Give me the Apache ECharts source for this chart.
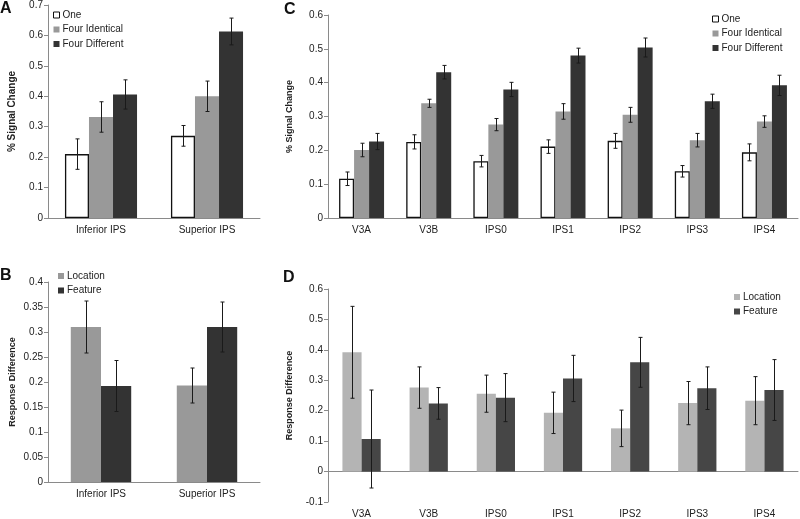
<!DOCTYPE html>
<html><head><meta charset="utf-8">
<script src="https://cdn.jsdelivr.net/npm/echarts@6/dist/echarts.min.js"></script>
<style>html,body{margin:0;padding:0;background:#fff}#c{width:800px;height:519px}</style>
</head><body><div id="c"></div>
<script>
// ---------- data ----------
const catsAB = ['Inferior IPS', 'Superior IPS'];
const catsCD = ['V3A', 'V3B', 'IPS0', 'IPS1', 'IPS2', 'IPS3', 'IPS4'];

// Panel A (% signal change)
const oneA = [0.21, 0.27];
const oneAErr = [0.05, 0.034];
const identA = [0.332, 0.40];
const identAErr = [0.05, 0.05];
const diffA = [0.406, 0.613];
const diffAErr = [0.048, 0.044];

// Panel B (response difference)
const locB = [0.31, 0.193];
const locBErr = [0.052, 0.035];
const featB = [0.192, 0.31];
const featBErr = [0.051, 0.05];

// Panel C (% signal change)
const oneC = [0.116, 0.225, 0.168, 0.211, 0.228, 0.138, 0.194];
const oneCErr = [0.02, 0.021, 0.017, 0.02, 0.022, 0.017, 0.025];
const identC = [0.201, 0.339, 0.276, 0.315, 0.305, 0.230, 0.285];
const identCErr = [0.02, 0.012, 0.018, 0.023, 0.022, 0.02, 0.017];
const diffC = [0.226, 0.431, 0.380, 0.480, 0.504, 0.345, 0.392];
const diffCErr = [0.024, 0.02, 0.021, 0.022, 0.028, 0.021, 0.03];

// Panel D (response difference)
const locD = [0.392, 0.276, 0.256, 0.193, 0.142, 0.225, 0.233];
const locDErr = [0.151, 0.068, 0.061, 0.068, 0.06, 0.071, 0.079];
const featD = [0.107, 0.224, 0.243, 0.306, 0.359, 0.274, 0.268];
const featDErr = [0.161, 0.052, 0.079, 0.076, 0.082, 0.07, 0.1];

// ---------- styling ----------
const FONT = "'Liberation Sans', Arial, sans-serif";
const AXIS = '#8a8a8a';
const TXT = '#222';
const C_WHITE = '#ffffff', C_GRAY = '#999999', C_DARK = '#333333';
const C_LGRAY = '#b4b4b4', C_DGRAY = '#464646';

function errData(vals, errs, k) {
  return vals.map((v, i) => [i, v - errs[i], v + errs[i], k]);
}
function errRender(n, gap) {
  return function (params, api) {
    const cat = api.value(0), lo = api.value(1), hi = api.value(2), k = api.value(3);
    const band = api.size([1, 0])[0];
    const bw = band * (1 - gap) / n;
    const pLo = api.coord([cat, lo]);
    const pHi = api.coord([cat, hi]);
    const x = Math.round(pLo[0] + (k - (n - 1) / 2) * bw) + 0.5;
    const st = { stroke: '#1a1a1a', lineWidth: 1 };
    const cw = 2;
    return {
      type: 'group', children: [
        { type: 'line', shape: { x1: x, y1: pLo[1], x2: x, y2: pHi[1] }, style: st },
        { type: 'line', shape: { x1: x - cw, y1: pHi[1], x2: x + cw, y2: pHi[1] }, style: st },
        { type: 'line', shape: { x1: x - cw, y1: pLo[1], x2: x + cw, y2: pLo[1] }, style: st }
      ]
    };
  };
}

function xAxis(gi, cats) {
  return {
    type: 'category', gridIndex: gi, data: cats,
    axisLine: { lineStyle: { color: AXIS, width: 1 } },
    axisTick: { length: 3, lineStyle: { color: AXIS } },
    axisLabel: { color: TXT, fontSize: 10, fontFamily: FONT, margin: 7 },
    splitLine: { show: false }
  };
}
function yAxis(gi, min, max, interval, name, gap, fs) {
  return {
    type: 'value', gridIndex: gi, min: min, max: max, interval: interval,
    name: name, nameLocation: 'middle', nameGap: gap,
    nameTextStyle: { fontFamily: FONT, fontSize: fs, fontWeight: 'bold', color: TXT },
    axisLine: { show: true, lineStyle: { color: AXIS, width: 1 } },
    axisTick: { show: true, length: 4, lineStyle: { color: AXIS } },
    axisLabel: { color: TXT, fontSize: 10, fontFamily: FONT, margin: 5,
      formatter: v => String(Math.round(v * 100) / 100) },
    splitLine: { show: false }
  };
}
function bar(name, xi, data, color, gap, border) {
  return {
    type: 'bar', name: name, xAxisIndex: xi, yAxisIndex: xi, data: data,
    barGap: '0%', barCategoryGap: (gap * 100) + '%',
    itemStyle: border ? { color: color, borderColor: '#111', borderWidth: 1.3 } : { color: color },
    emphasis: { disabled: true }
  };
}
function err(xi, vals, errs, k, n, gap) {
  return {
    type: 'custom', xAxisIndex: xi, yAxisIndex: xi, z: 10,
    renderItem: errRender(n, gap), data: errData(vals, errs, k),
    encode: { x: 0, y: [1, 2] }, silent: true
  };
}
function legend(items, left, top) {
  return {
    orient: 'vertical', left: left, top: top, padding: 0,
    itemWidth: 6, itemHeight: 6, itemGap: 4.5,
    icon: 'rect', selectedMode: false,
    textStyle: { fontFamily: FONT, fontSize: 10, color: TXT, padding: [0, 0, 0, -2] },
    data: items
  };
}

const gA = 0.32, gB = 0.43, gC = 0.33, gD = 0.43;
const oneItem = { name: 'One', itemStyle: { color: '#fff', borderColor: '#111', borderWidth: 1 } };

const option = {
  animation: false,
  backgroundColor: '#fff',
  textStyle: { fontFamily: FONT },
  grid: [
    { left: 48, top: 4, width: 212, height: 214 },
    { left: 48, top: 282, width: 212, height: 200 },
    { left: 328, top: 15, width: 470, height: 203 },
    { left: 328, top: 289, width: 470, height: 217 }
  ],
  xAxis: [xAxis(0, catsAB), xAxis(1, catsAB), xAxis(2, catsCD), xAxis(3, catsCD)],
  yAxis: [
    yAxis(0, 0, 0.7, 0.1, '% Signal Change', 31, 10),
    yAxis(1, 0, 0.4, 0.05, 'Response Difference', 31, 9),
    yAxis(2, 0, 0.6, 0.1, '% Signal Change', 34, 9),
    yAxis(3, -0.1, 0.6, 0.1, 'Response Difference', 34, 9)
  ],
  legend: [
    legend([oneItem, 'Four Identical', 'Four Different'], 53, 10),
    legend(['Location', 'Feature'], 58, 271),
    legend([oneItem, 'Four Identical', 'Four Different'], 712, 14),
    legend(['Location ', 'Feature '], 734, 292)
  ],
  graphic: [
    { type: 'text', left: 0, top: 1, style: { text: 'A', font: 'bold 16px ' + FONT, fill: '#111' } },
    { type: 'text', left: 0, top: 268, style: { text: 'B', font: 'bold 16px ' + FONT, fill: '#111' } },
    { type: 'text', left: 284, top: 2, style: { text: 'C', font: 'bold 16px ' + FONT, fill: '#111' } },
    { type: 'text', left: 283, top: 270, style: { text: 'D', font: 'bold 16px ' + FONT, fill: '#111' } }
  ],
  series: [
    bar('One', 0, oneA, C_WHITE, gA, true),
    bar('Four Identical', 0, identA, C_GRAY, gA),
    bar('Four Different', 0, diffA, C_DARK, gA),
    err(0, oneA, oneAErr, 0, 3, gA), err(0, identA, identAErr, 1, 3, gA), err(0, diffA, diffAErr, 2, 3, gA),

    bar('Location', 1, locB, C_GRAY, gB),
    bar('Feature', 1, featB, C_DARK, gB),
    err(1, locB, locBErr, 0, 2, gB), err(1, featB, featBErr, 1, 2, gB),

    bar('One', 2, oneC, C_WHITE, gC, true),
    bar('Four Identical', 2, identC, C_GRAY, gC),
    bar('Four Different', 2, diffC, C_DARK, gC),
    err(2, oneC, oneCErr, 0, 3, gC), err(2, identC, identCErr, 1, 3, gC), err(2, diffC, diffCErr, 2, 3, gC),

    bar('Location ', 3, locD, C_LGRAY, gD),
    bar('Feature ', 3, featD, C_DGRAY, gD),
    err(3, locD, locDErr, 0, 2, gD), err(3, featD, featDErr, 1, 2, gD)
  ]
};
const chart = echarts.init(document.getElementById('c'), null, { renderer: 'canvas' });
chart.setOption(option);
</script></body></html>
